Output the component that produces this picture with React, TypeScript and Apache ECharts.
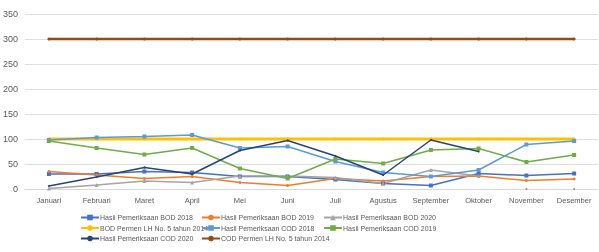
import React, { useEffect, useRef } from "react";
import * as echarts from "echarts";

const months = ["Januari", "Februari", "Maret", "April", "Mei", "Juni", "Juli", "Agustus", "September", "Oktober", "November", "Desember"];
const bod2018 = [30, 30, 35, 33, 25, 25, 19, 11, 7, 31, 27, 31];
const bod2019 = [35, 28, 21, 25, 13, 7, 21, 16, 25, 26, 17, 20];
const bod2020 = [1, 8, 16, 13, 26, 26, 23, 11, 38, 26, null, null];
const bodPermen = [100, 100, 100, 100, 100, 100, 100, 100, 100, 100, 100, 100];
const cod2018 = [98, 103, 105, 108, 82, 85, 55, 33, 25, 38, 89, 96];
const cod2019 = [96, 82, 69, 82, 41, 21, 60, 51, 78, 81, 54, 68];
const cod2020 = [6, 24, 43, 30, 77, 97, 66, 28, 98, 75, null, null];
const codPermen = [300, 300, 300, 300, 300, 300, 300, 300, 300, 300, 300, 300];
const strayMarkers = [null, null, null, null, null, null, null, null, null, null, 0, 0];
const yTicks = { min: 0, max: 350, interval: 50 };

const names = [
  "Hasil Pemeriksaan BOD 2018",
  "Hasil Pemeriksaan BOD 2019",
  "Hasil Pemeriksaan BOD 2020",
  "BOD Permen LH No. 5 tahun 2014",
  "Hasil Pemeriksaan COD 2018",
  "Hasil Pemeriksaan COD 2019",
  "Hasil Pemeriksaan COD 2020",
  "COD Permen LH No. 5 tahun 2014",
];

export default function App() {
  const ref = useRef<HTMLDivElement>(null);
  useEffect(() => {
    if (!ref.current) return;
    const chart = echarts.init(ref.current, undefined, { renderer: "svg" });
    const font = "'Liberation Sans', Arial, sans-serif";
    const mk = (name: string, data: any[], color: string, symbol: string, size: number, width: number, z = 2) => ({
      name,
      type: "line",
      data,
      z,
      symbol,
      symbolSize: size,
      lineStyle: { color, width },
      itemStyle: { color },
      connectNulls: false,
    });
    const legendBase = {
      orient: "vertical",
      itemWidth: 18,
      itemHeight: 7,
      itemGap: 3.5,
      textStyle: { fontSize: 7, color: "#595959", fontFamily: font, padding: [0, 0, 0, -4] },
      padding: 0,
    };
    chart.setOption({
      animation: false,
      grid: { left: 21, right: 1, top: 14, bottom: 63, containLabel: false },
      legend: [
        { ...legendBase, left: 80, top: 214, data: [names[0], names[3], names[6]] },
        { ...legendBase, left: 201, top: 214, data: [names[1], names[4], names[7]] },
        { ...legendBase, left: 323, top: 214, data: [names[2], names[5]] },
      ],
      xAxis: {
        type: "category",
        data: months,
        boundaryGap: true,
        axisLine: { lineStyle: { color: "#d9d9d9" } },
        axisTick: { show: false },
        axisLabel: { fontSize: 7.5, color: "#595959", fontFamily: font, margin: 7, interval: 0 },
      },
      yAxis: {
        type: "value",
        min: yTicks.min,
        max: yTicks.max,
        interval: yTicks.interval,
        axisLine: { show: false },
        axisTick: { show: false },
        axisLabel: { fontSize: 9, color: "#595959", fontFamily: font, margin: 7 },
        splitLine: { lineStyle: { color: "#dedede", width: 1 } },
      },
      series: [
        mk(names[0], bod2018, "#4472C4", "rect", 4, 1.5, 3),
        mk(names[1], bod2019, "#ED7D31", "circle", 3, 1.5, 3),
        mk(names[2], bod2020, "#A5A5A5", "triangle", 4, 1.5, 3),
        mk(names[3], bodPermen, "#FFC000", "circle", 3, 3, 2),
        mk(names[4], cod2018, "#5B9BD5", "rect", 4, 1.5, 3),
        mk(names[5], cod2019, "#70AD47", "rect", 4, 1.5, 3),
        mk(names[6], cod2020, "#264478", "circle", 2, 1.5, 4),
        mk(names[7], codPermen, "#9E480E", "circle", 3, 2.5, 2),
        {
          name: "extra",
          type: "scatter",
          data: strayMarkers,
          symbol: "circle",
          symbolSize: 2,
          itemStyle: { color: "#7f7f7f" },
        },
      ],
    });
    return () => chart.dispose();
  }, []);
  return <div ref={ref} style={{ position: "fixed", left: 0, top: 0, width: 599, height: 252 }} />;
}
